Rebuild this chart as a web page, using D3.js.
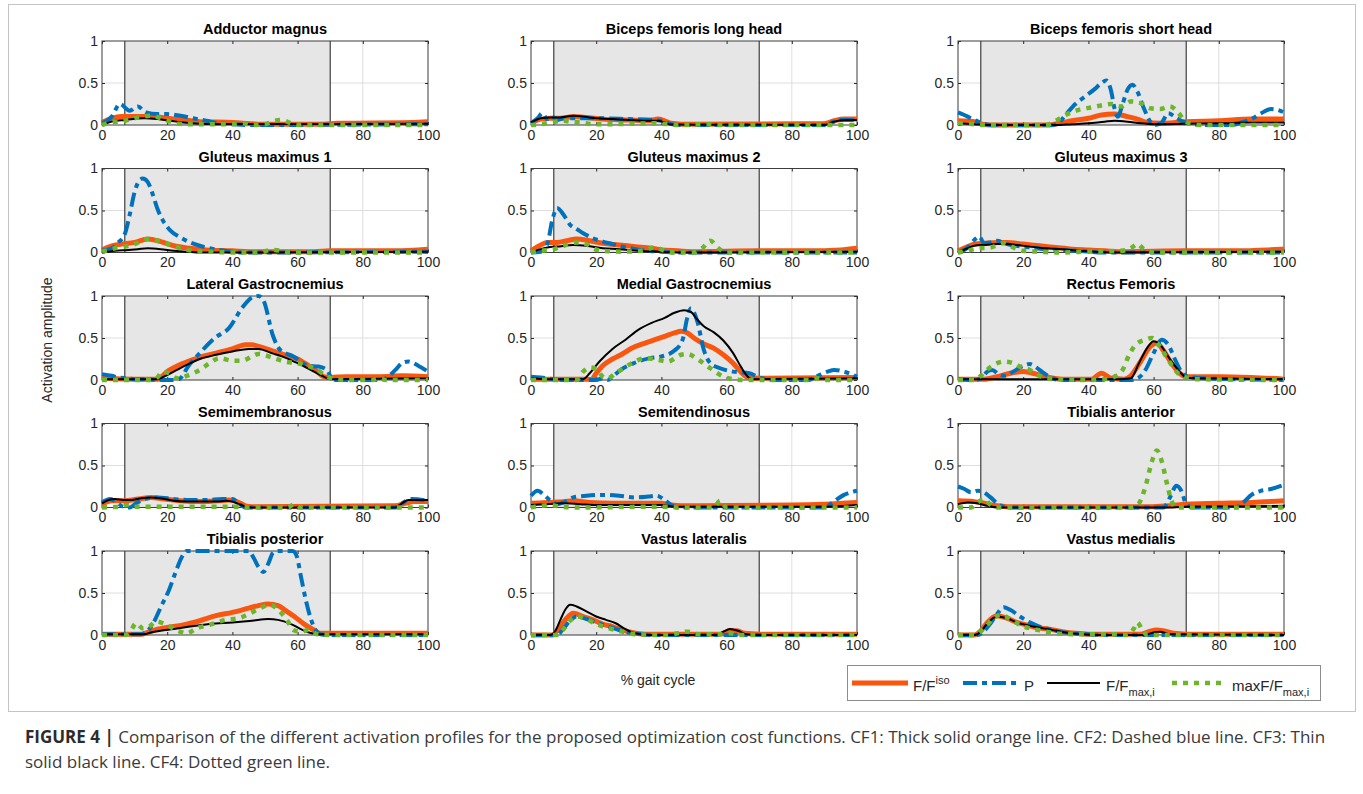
<!DOCTYPE html>
<html>
<head>
<meta charset="utf-8">
<script src="https://cdn.jsdelivr.net/npm/d3@7"></script>
<style>
  html, body { margin: 0; padding: 0; background: #fff; }
  svg { display: block; }
</style>
</head>
<body>
<svg id="fig" width="1363" height="794"></svg>
<script>
// Activation profiles per muscle, one knot list [% gait, amplitude] per cost function.
const muscleNames = [
  "Adductor magnus", "Biceps femoris long head", "Biceps femoris short head",
  "Gluteus maximus 1", "Gluteus maximus 2", "Gluteus maximus 3",
  "Lateral Gastrocnemius", "Medial Gastrocnemius", "Rectus Femoris",
  "Semimembranosus", "Semitendinosus", "Tibialis anterior",
  "Tibialis posterior", "Vastus lateralis", "Vastus medialis"
];

// CF1: F/F^iso
const isoCurves = [
  [[0,.03],[3,.08],[6,.1],[15,.1],[20,.08],[25,.06],[30,.04],[40,.03],[48,.01],[68,.01],[72,.02],[95,.03],[100,.04]],
  [[0,.02],[3,.07],[6,.08],[9,.08],[13,.1],[17,.09],[22,.07],[30,.06],[36,.05],[39,.07],[41,.05],[43,.02],[46,.01],[90,.015],[93,.05],[96,.07],[100,.07]],
  [[0,.05],[5,.04],[7.5,.01],[10,0],[28,0],[31,.02],[35,.05],[40,.08],[44,.12],[48,.13],[52,.1],[55,.07],[58,.03],[62,.02],[70,.04],[80,.05],[90,.07],[100,.07]],
  [[0,.03],[3,.08],[6,.1],[10,.12],[14,.16],[18,.13],[22,.08],[27,.05],[32,.03],[40,.02],[45,.01],[65,.01],[70,.02],[90,.02],[100,.04]],
  [[0,.02],[3,.09],[5,.12],[8,.12],[11,.14],[14,.16],[18,.14],[22,.11],[27,.09],[32,.07],[37,.05],[40,.03],[45,.02],[50,.01],[70,.02],[85,.02],[95,.03],[100,.05]],
  [[0,.02],[3,.07],[5,.1],[8,.11],[12,.12],[15,.12],[20,.1],[25,.08],[30,.06],[35,.04],[40,.03],[45,.02],[50,.01],[70,.02],[85,.02],[95,.03],[100,.04]],
  [[0,.02],[10,.01],[17,.01],[20,.1],[25,.2],[30,.27],[35,.32],[40,.37],[44,.42],[46,.42],[48,.4],[52,.35],[56,.3],[60,.25],[63,.18],[66,.1],[68,.04],[70,.03],[75,.04],[85,.04],[92,.05],[100,.04]],
  [[0,.01],[17,.01],[18.5,.005],[20,.08],[22,.17],[25,.25],[28,.31],[31,.38],[35,.44],[38,.48],[41,.52],[44,.56],[46,.58],[48,.56],[50,.5],[53,.43],[56,.38],[59,.3],[62,.2],[64.5,.09],[66.5,.03],[70,.02],[100,.03]],
  [[0,.01],[8,.01],[12,.04],[16,.08],[20,.1],[24,.07],[28,.03],[32,.01],[41,.01],[44,.08],[47,.02],[51,.01],[53,.05],[56,.22],[59,.4],[61,.44],[63,.35],[65.5,.2],[68,.08],[70,.04],[80,.04],[90,.03],[100,.01]],
  [[0,.04],[3,.08],[7,.08],[11,.1],[15,.12],[19,.1],[24,.08],[30,.07],[36,.08],[39,.09],[42,.06],[44,.02],[46,.01],[90,.02],[93,.05],[96,.07],[100,.07]],
  [[0,.05],[5,.06],[10,.07],[13,.08],[18,.06],[25,.05],[40,.05],[43,.03],[46,.02],[80,.03],[90,.04],[100,.06]],
  [[0,.08],[5,.07],[8,.05],[12,.02],[15,.01],[60,.01],[65,.02],[70,.04],[80,.05],[90,.06],[100,.08]],
  [[0,.01],[12,.01],[14,.03],[17,.07],[20,.09],[25,.12],[30,.17],[35,.23],[40,.27],[45,.32],[48,.35],[51,.37],[54,.35],[56,.3],[59,.22],[62,.13],[65,.06],[67,.02],[100,.02]],
  [[0,0],[6.5,0],[8.5,.08],[10.5,.18],[13,.26],[16,.22],[19,.18],[22,.13],[25,.1],[28,.06],[31,.03],[35,.01],[58,.01],[61,.05],[63,.05],[65.5,.02],[70,.01],[100,.01]],
  [[0,0],[5,0],[7,.05],[9,.15],[12,.23],[15,.2],[18,.15],[21,.12],[24,.09],[28,.07],[32,.04],[36,.02],[40,.01],[56,.01],[58.5,.04],[61,.06],[63,.05],[66,.02],[70,.01],[100,.01]]
];

// CF2: P
const pCurves = [
  [[0,.02],[3,.1],[5.5,.25],[8.5,.17],[11,.22],[13.5,.15],[17,.13],[20,.13],[24,.11],[28,.08],[32,.05],[36,.02],[40,.01],[45,0],[100,.01]],
  [[0,.02],[2,.08],[3.5,.14],[5,.07],[6.5,.1],[8,.06],[10,.08],[20,.08],[30,.07],[38,.06],[40,.05],[43,.01],[45,0],[90,0],[93,.04],[95,.06],[100,.06]],
  [[0,.15],[3,.1],[5,.06],[7.5,.02],[10,0],[29,0],[31,.03],[33,.12],[36,.25],[39,.34],[42,.43],[44,.5],[45.5,.53],[47,.4],[48,.2],[49,.1],[50.5,.25],[52,.42],[53.5,.48],[55,.4],[57,.2],[59,.04],[60.5,0],[62.5,.03],[64.5,.14],[66.5,.1],[69,.04],[72,.01],[75,0],[84,0],[87,.03],[90,.07],[93,.14],[96,.19],[98,.18],[100,.15]],
  [[0,.02],[3,.05],[5,.12],[7,.22],[8.5,.45],[10,.72],[11.5,.86],[12.5,.88],[14,.84],[15.5,.7],[17,.52],[19,.36],[21,.26],[24,.18],[27,.12],[30,.08],[33,.05],[36,.03],[40,.01],[43,0],[100,.01]],
  [[0,0],[3,.01],[5,.1],[6.5,.38],[8,.53],[10,.45],[12,.33],[14,.28],[16,.23],[19,.17],[22,.13],[25,.1],[28,.07],[32,.04],[36,.02],[40,.01],[44,0],[100,0]],
  [[0,0],[3,.06],[5,.15],[6.5,.19],[8,.11],[10,.12],[12,.14],[15,.1],[18,.08],[22,.06],[27,.04],[32,.03],[36,.02],[40,.01],[44,0],[100,0]],
  [[0,.07],[3,.05],[5,.03],[7.5,.02],[10,.01],[14,.01],[16,0],[22.5,0],[24,.02],[26.4,.16],[30,.32],[34.6,.5],[39,.62],[43,.86],[46.4,.99],[48,1],[49.5,.95],[52.5,.52],[54.6,.36],[58.7,.28],[63.3,.17],[66.4,.16],[69,.12],[70.5,.02],[72,0],[85,0],[87,.02],[90,.12],[92,.2],[94,.22],[97,.17],[100,.1]],
  [[0,.04],[3,.03],[7,.01],[10,0],[20,0],[22,.02],[23.5,0],[25,.04],[27.5,.12],[31.5,.2],[36.5,.26],[40,.28],[44,.35],[46.5,.48],[48,.75],[49,.85],[51,.7],[53,.36],[55,.2],[58,.14],[62,.1],[67,.08],[69.5,.04],[72,.01],[75,0],[85,0],[88,.05],[91,.1],[93,.12],[96,.1],[100,.04]],
  [[0,.01],[5,0],[7,.02],[9,.1],[10.5,.12],[12.5,.07],[14.5,.05],[17,.1],[20,.17],[22,.19],[24,.15],[26,.09],[28.5,.03],[31,0],[53,0],[55.5,.03],[57.5,.12],[60,.32],[62.5,.48],[64.5,.42],[66.5,.25],[68.5,.1],[70.5,.04],[75,.02],[85,.01],[100,0]],
  [[0,.06],[2.5,.1],[4.5,.06],[6.5,.01],[8.5,0],[10.5,.05],[13,.1],[17,.12],[22,.1],[27,.09],[32,.09],[37,.1],[40,.1],[42,.05],[44,0],[90,0],[92,.05],[95,.1],[100,.08]],
  [[0,.14],[2,.2],[4,.15],[6,.08],[8,.04],[10,.06],[13,.12],[17,.14],[22,.15],[27,.14],[32,.12],[36,.13],[38.5,.14],[41,.09],[43,.03],[45,0],[90,0],[92.5,.06],[96,.15],[100,.2]],
  [[0,.25],[2,.22],[4,.18],[6,.2],[7.5,.19],[10,.12],[12,.05],[14,.01],[16,0],[63,0],[65,.12],[67,.26],[68.5,.2],[70,.04],[72,0],[85,0],[87.5,.06],[90,.15],[93,.2],[96,.22],[100,.27]],
  [[0,.01],[12,.01],[14,.05],[16,.16],[18,.33],[20.5,.53],[22.5,.74],[24.5,.93],[26,1],[45,1],[46.5,.92],[48,.81],[49.5,.75],[51,.85],[52.5,.98],[54,1],[58.5,1],[59.8,.93],[61,.7],[62.5,.42],[64,.2],[65.5,.06],[67,.01],[70,0],[100,0]],
  [[0,0],[8,0],[10,.08],[12,.17],[14,.22],[17,.19],[20,.15],[23,.11],[27,.06],[30,.03],[34,.01],[38,0],[100,0]],
  [[0,0],[6,0],[8,.05],[10,.14],[12,.25],[14,.33],[16,.3],[19,.22],[22,.15],[25,.1],[28,.07],[31,.04],[35,.02],[40,.01],[45,0],[100,0]]
];

// CF3: F/F_max,i
const fmaxCurves = [
  [[0,0],[3,.04],[7,.06],[13,.08],[17,.07],[21,.05],[25,.03],[30,.015],[35,.01],[100,.015]],
  [[0,.03],[3,.08],[6,.09],[9,.09],[13,.11],[16,.1],[20,.08],[25,.07],[30,.06],[36,.05],[39,.05],[41,.03],[43,.005],[90,0],[93,.04],[96,.06],[100,.06]],
  [[0,.02],[5,.01],[10,0],[30,0],[35,.01],[40,.02],[45,.04],[48,.05],[52,.04],[56,.02],[60,.01],[70,.015],[80,.02],[90,.03],[100,.03]],
  [[0,0],[4,.02],[8,.03],[11,.04],[14,.05],[18,.04],[22,.02],[26,.01],[30,0],[100,.01]],
  [[0,0],[3,.04],[5,.06],[8,.07],[13,.09],[17,.08],[22,.05],[27,.04],[33,.02],[40,.01],[45,0],[100,.01]],
  [[0,0],[3,.05],[5,.08],[8,.09],[12,.1],[15,.1],[18,.09],[22,.07],[27,.05],[32,.04],[37,.02],[42,.01],[46,0],[100,.01]],
  [[0,.01],[17,.01],[19,.04],[22,.1],[26,.18],[30,.25],[35,.3],[40,.34],[45,.37],[48,.37],[52,.32],[56,.27],[60,.2],[64,.12],[68,.04],[70,.01],[100,.02]],
  [[0,.02],[5,.01],[16,.01],[18,.08],[21,.22],[25,.37],[29,.48],[33,.6],[37,.68],[41,.74],[44,.8],[47,.83],[49,.81],[51,.72],[53,.64],[56,.57],[59,.47],[62,.32],[64.5,.15],[66.5,.04],[68,.01],[100,.02]],
  [[0,.01],[50,.01],[53,.02],[55.5,.2],[58,.38],[60,.46],[62,.42],[65,.25],[68,.1],[70,.03],[72,.02],[100,.01]],
  [[0,.05],[2,.09],[4,.1],[6.5,.09],[9,.09],[12,.11],[15,.12],[18,.11],[22,.08],[26,.07],[30,.07],[35,.07],[38,.08],[40,.07],[42,.04],[44,.01],[46,0],[90,0],[92,.05],[94,.09],[100,.09]],
  [[0,.03],[5,.04],[10,.05],[15,.04],[20,.03],[40,.03],[44,.01],[90,.01],[100,.03]],
  [[0,.04],[3,.06],[6,.05],[9,.02],[12,0],[66,0],[70,.01],[100,.02]],
  [[0,.01],[13,.01],[15,.03],[18,.05],[22,.07],[27,.1],[33,.13],[40,.15],[46,.17],[51,.19],[54,.18],[58,.13],[61,.07],[63.5,.03],[66,.01],[100,.01]],
  [[0,0],[6,0],[7.5,.05],[9,.18],[10.5,.3],[12,.36],[14,.34],[17,.28],[20,.22],[23,.18],[26,.14],[28.5,.08],[31,.03],[34,.01],[38,0],[57,0],[59,.04],[61,.07],[63.5,.05],[66,.01],[70,0],[100,0]],
  [[0,0],[5,0],[7,.04],[9,.14],[12,.22],[15,.2],[18,.15],[22,.11],[26,.08],[29,.06],[33,.03],[38,.01],[45,0],[57,0],[60,.03],[62,.04],[65,.01],[100,0]]
];

// CF4: maxF/F_max,i
const maxfCurves = [
  [[0,0],[3,.03],[7,.05],[11,.09],[15,.11],[18,.08],[21,.04],[25,.01],[40,.01],[43,.02],[46,0],[50,.01],[53,.05],[55,.06],[58,.02],[61,0],[100,0]],
  [[0,0],[3,.01],[6,.03],[10,.05],[12,.04],[15,.03],[19,.01],[25,.01],[38,.02],[42,.01],[45,0],[54,.01],[58,0],[100,0]],
  [[0,.02],[5,.01],[8,0],[27,0],[30,.05],[33,.12],[37,.18],[41,.21],[45,.24],[47,.25],[50,.22],[53,.28],[56,.26],[59,.2],[62,.19],[65,.22],[67.5,.15],[69.5,.05],[72,.01],[75,0],[100,0]],
  [[0,.01],[4,.05],[7,.07],[10,.1],[14,.16],[18,.13],[21,.09],[24,.05],[28,.02],[33,.01],[40,0],[48,0],[52,.03],[55,.02],[58,0],[100,0]],
  [[0,0],[3,.02],[7,.04],[10,.08],[14,.12],[17,.1],[19,.05],[22,.02],[28,.01],[34,.02],[38,.06],[41,.02],[44,0],[50,0],[52.5,.05],[55,.14],[57.5,.05],[60,0],[100,0]],
  [[0,0],[3,.02],[6,.05],[10,.06],[14,.11],[17,.06],[20,.02],[25,.01],[30,0],[40,.01],[50,.02],[53,.05],[55,.1],[57,.04],[60,0],[100,0]],
  [[0,0],[15,0],[17,.03],[18.5,.1],[21,.07],[23,.02],[26,.05],[30,.12],[33,.2],[36,.26],[40,.23],[43,.23],[46,.28],[48,.31],[52,.27],[56,.22],[60,.2],[63,.17],[66,.12],[69,.04],[72,.01],[75,0],[83,0],[85,.02],[87,0],[100,0]],
  [[0,0],[14,0],[16,.1],[18,.15],[20,.13],[22,.04],[23.5,.02],[26,.08],[31,.2],[35,.26],[39,.24],[42,.22],[46,.3],[48,.31],[51,.25],[55,.14],[59,.04],[62,.01],[65,0],[86,0],[88,.02],[90,0],[100,0]],
  [[0,0],[5,0],[7,.05],[9.5,.14],[12,.2],[14,.22],[17,.2],[19.5,.15],[21.5,.13],[24,.07],[27,.02],[30,.01],[40,0],[45,.01],[48,.04],[50.5,.12],[52.5,.3],[54.5,.42],[57.5,.48],[59.5,.5],[61.5,.42],[64.5,.24],[67.5,.08],[70,.03],[73,.01],[100,0]],
  [[0,0],[5,.01],[8,.03],[10,.01],[20,.01],[40,.01],[45,0],[57,0],[59,.04],[61,0],[100,0]],
  [[0,0],[3,.02],[6,.03],[9,.01],[15,0],[40,.01],[45,0],[56,0],[58,.08],[60,0],[100,0]],
  [[0,0],[4,0],[6,.06],[8,.1],[10,.03],[12,0],[53,0],[55.5,.05],[57.5,.25],[59.5,.55],[61,.68],[62.5,.55],[64,.3],[65.5,.08],[67,0],[100,0]],
  [[0,0],[7,0],[8.5,.03],[10.5,.14],[12.5,.08],[14.5,.1],[16.7,.16],[19.8,.12],[22.8,.06],[26,.02],[29,.08],[33,.12],[38,.18],[42,.2],[45.5,.26],[48.5,.32],[51.5,.36],[54,.3],[56.7,.18],[58.7,.06],[60.8,.04],[63.3,.06],[66,.01],[70,0],[100,0]],
  [[0,0],[8,0],[10,.07],[12,.17],[14,.22],[17,.19],[20,.13],[24,.08],[28,.04],[32,.01],[42,0],[45,.02],[48,.04],[51,.01],[58,.01],[61,.02],[64,0],[100,0]],
  [[0,0],[5,0],[8,.08],[11,.2],[13,.24],[16,.19],[19,.12],[22,.08],[26,.05],[30,.02],[35,.01],[45,.01],[52,0],[54,.08],[55,.15],[56.5,.06],[58,0],[100,0]]
];

const xTicks = [0, 20, 40, 60, 80, 100];
const yTicks = [0, 0.5, 1];
const xGrid = [20, 40, 60, 80];
const stancePhase = [7, 70];   // shaded interval, % gait cycle

// Series styling, drawn in this order
const seriesStyles = [
  { data: isoCurves,  color: "#F9560F", width: 5,   dash: null },
  { data: pCurves,    color: "#0072BD", width: 4,   dash: "14,5,5,5" },
  { data: fmaxCurves, color: "#000000", width: 2,   dash: null },
  { data: maxfCurves, color: "#6DB52A", width: 4.5, dash: "5,6" }
];

const svg = d3.select("#fig");
const FONT = "'Liberation Sans', Arial, Helvetica, sans-serif";
const axisColor = "#262626";

// figure frame
svg.append("rect").attr("x", 8.5).attr("y", 4.5).attr("width", 1347).attr("height", 707)
  .attr("fill", "none").attr("stroke", "#c4c4c4").attr("stroke-width", 1);

const colLeft = [102, 531, 958];
const rowTop = [41, 168.5, 296, 423.5, 551];
const pw = 326, ph = 84;

const x = d3.scaleLinear().domain([0, 100]).range([0, pw]);
const y = d3.scaleLinear().domain([0, 1]).range([ph, 0]);
const line = d3.line().x(d => x(d[0])).y(d => y(d[1])).curve(d3.curveMonotoneX);

muscleNames.forEach((name, i) => {
  const col = i % 3, row = Math.floor(i / 3);
  const g = svg.append("g").attr("transform", `translate(${colLeft[col]},${rowTop[row]})`);

  g.append("rect").attr("width", pw).attr("height", ph).attr("fill", "#fff");

  // grid
  g.selectAll(".gx").data(xGrid).enter().append("line")
    .attr("x1", d => x(d)).attr("x2", d => x(d)).attr("y1", 0).attr("y2", ph)
    .attr("stroke", "#dedede").attr("stroke-width", 1);
  g.append("line").attr("x1", 0).attr("x2", pw).attr("y1", y(0.5)).attr("y2", y(0.5))
    .attr("stroke", "#dedede").attr("stroke-width", 1);

  // stance band
  g.append("rect").attr("x", x(stancePhase[0])).attr("y", 0)
    .attr("width", x(stancePhase[1]) - x(stancePhase[0])).attr("height", ph)
    .attr("fill", "#e6e6e6");
  stancePhase.forEach(v => g.append("line")
    .attr("x1", x(v)).attr("x2", x(v)).attr("y1", 0).attr("y2", ph)
    .attr("stroke", "#1a1a1a").attr("stroke-width", 1));

  // axes
  const ax = g.append("g").attr("transform", `translate(0,${ph})`)
    .call(d3.axisBottom(x).tickValues(xTicks).tickSize(-3).tickPadding(5).tickFormat(d3.format("d")));
  const ay = g.append("g")
    .call(d3.axisLeft(y).tickValues(yTicks).tickSize(-3).tickPadding(4).tickFormat(d => d === 0.5 ? "0.5" : d3.format("d")(d)));
  const at = g.append("g").call(d3.axisTop(x).tickValues(xTicks).tickSize(-3).tickFormat(""));
  const ar = g.append("g").attr("transform", `translate(${pw},0)`)
    .call(d3.axisRight(y).tickValues(yTicks).tickSize(-3).tickFormat(""));
  [ax, ay, at, ar].forEach(a => {
    a.select(".domain").remove();
    a.selectAll("line").attr("stroke", axisColor);
    a.selectAll("text").attr("fill", axisColor).style("font-family", FONT).style("font-size", "14px");
  });

  g.append("rect").attr("width", pw).attr("height", ph)
    .attr("fill", "none").attr("stroke", "#3c3c3c").attr("stroke-width", 1);

  // curves
  seriesStyles.forEach(s => {
    g.append("path").datum(s.data[i]).attr("d", line)
      .attr("fill", "none").attr("stroke", s.color).attr("stroke-width", s.width)
      .attr("stroke-dasharray", s.dash).attr("stroke-linejoin", "round")
      .attr("stroke-linecap", "butt");
  });

  // title
  g.append("text").attr("x", pw / 2).attr("y", -7).attr("text-anchor", "middle")
    .style("font-family", FONT).style("font-size", "14.5px").style("font-weight", "bold")
    .attr("fill", "#000").text(name);
});

// axis labels
svg.append("text").attr("x", 658).attr("y", 685).attr("text-anchor", "middle")
  .style("font-family", FONT).style("font-size", "14px").attr("fill", axisColor)
  .text("% gait cycle");
svg.append("text").attr("transform", "translate(52,340) rotate(-90)").attr("text-anchor", "middle")
  .style("font-family", FONT).style("font-size", "14px").attr("fill", axisColor)
  .text("Activation amplitude");

// legend
const lg = svg.append("g");
lg.append("rect").attr("x", 847.5).attr("y", 665.5).attr("width", 473).attr("height", 35)
  .attr("fill", "#fff").attr("stroke", "#8c8c8c").attr("stroke-width", 1);
const legendItems = [
  { x1: 852, x2: 908, tx: 913, main: "F/F", sup: "iso", sub: null },
  { x1: 963, x2: 1018, tx: 1024, main: "P", sup: null, sub: null },
  { x1: 1047, x2: 1100, tx: 1106, main: "F/F", sup: null, sub: "max,i" },
  { x1: 1172, x2: 1222, tx: 1232, main: "maxF/F", sup: null, sub: "max,i" }
];
legendItems.forEach((it, k) => {
  const s = seriesStyles[k];
  lg.append("line").attr("x1", it.x1).attr("x2", it.x2).attr("y1", 683).attr("y2", 683)
    .attr("stroke", s.color).attr("stroke-width", s.width).attr("stroke-dasharray", s.dash);
  const t = lg.append("text").attr("x", it.tx).attr("y", 691)
    .style("font-family", FONT).style("font-size", "15px").attr("fill", axisColor);
  t.append("tspan").text(it.main);
  if (it.sup) t.append("tspan").attr("dy", -7).style("font-size", "11px").text(it.sup);
  if (it.sub) t.append("tspan").attr("dy", 5).style("font-size", "11px").text(it.sub);
});

// caption
const capFont = "'Open Sans', 'Noto Sans', sans-serif";
const cap1 = svg.append("text").attr("x", 25).attr("y", 743)
  .style("font-family", capFont).style("font-size", "15px").attr("fill", "#3a3a3a");
cap1.append("tspan").style("font-weight", "bold").attr("fill", "#2b2b2b").text("FIGURE 4 | ");
cap1.append("tspan").text("Comparison of the different activation profiles for the proposed optimization cost functions. CF1: Thick solid orange line. CF2: Dashed blue line. CF3: Thin");
const cap2 = svg.append("text").attr("x", 25).attr("y", 768)
  .style("font-family", capFont).style("font-size", "15px").attr("fill", "#3a3a3a")
  .text("solid black line. CF4: Dotted green line.");
const wCap = cap1.node().getComputedTextLength();
const fs = Math.max(13, Math.min(17, 15 * 1314 / wCap));
cap1.style("font-size", fs + "px");
cap2.style("font-size", fs + "px");
</script>
</body>
</html>
